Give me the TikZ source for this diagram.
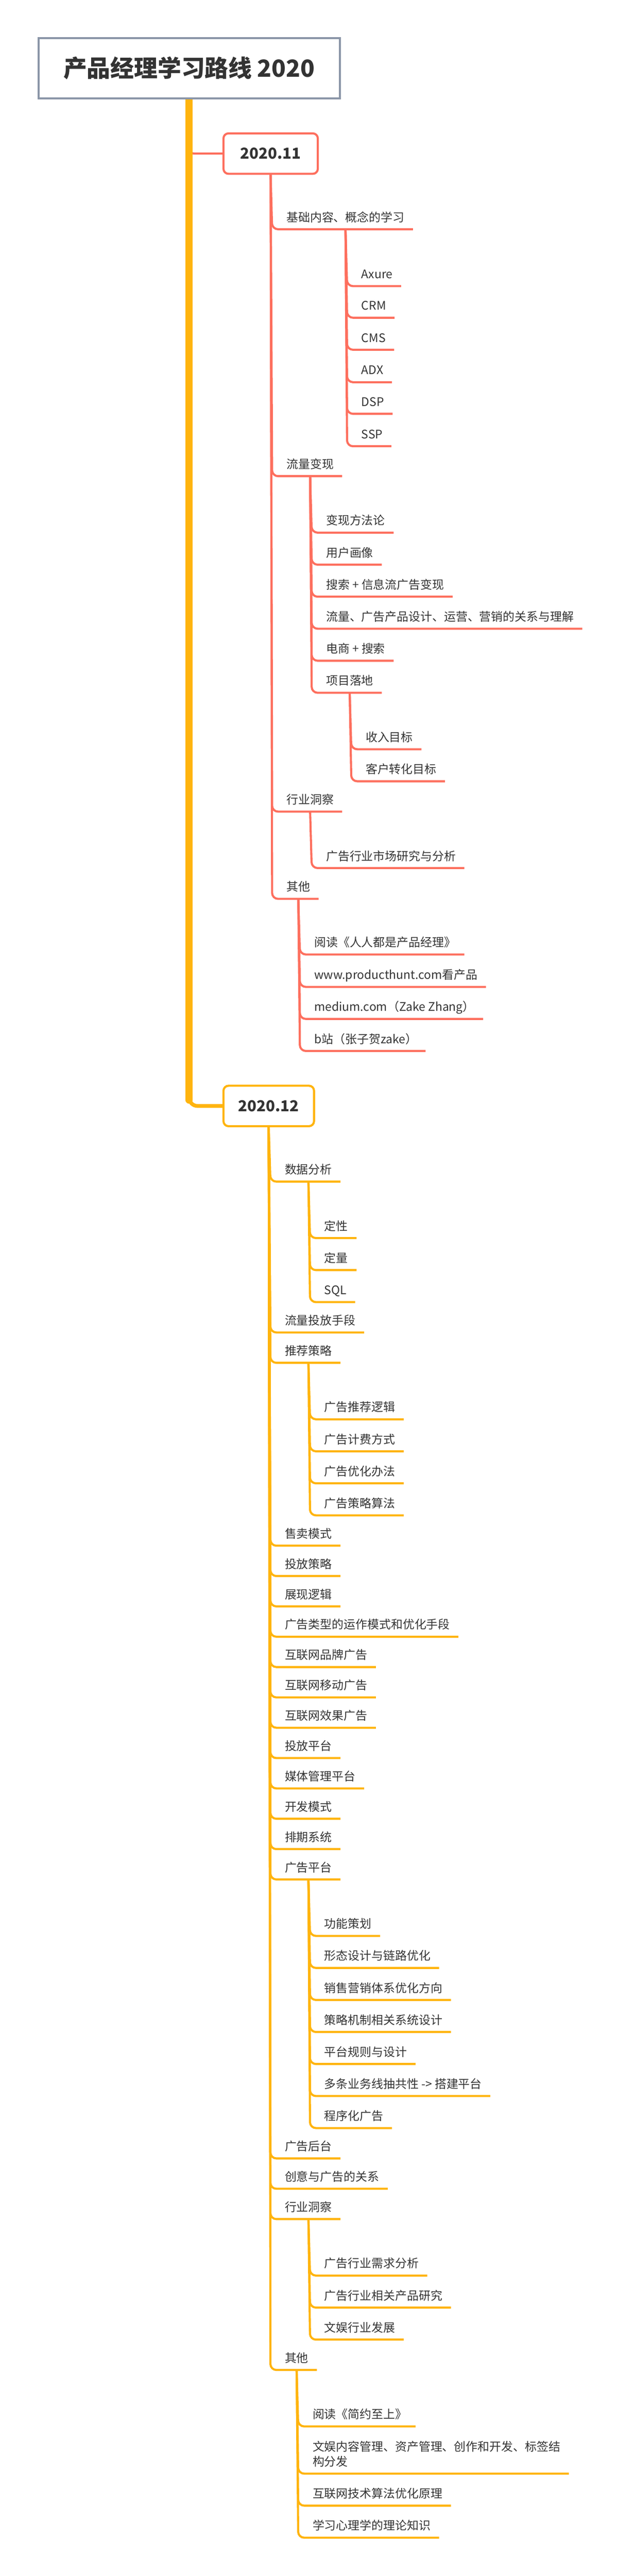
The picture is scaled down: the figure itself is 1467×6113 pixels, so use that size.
\documentclass[tikz,border=0pt]{standalone}
\usepackage{fontspec}
\setmainfont{Noto Sans CJK SC}
\definecolor{xred}{RGB}{253,111,94}
\definecolor{xorange}{RGB}{255,180,14}
\definecolor{xgray}{RGB}{139,150,168}
\definecolor{ink}{RGB}{51,51,51}
\newcommand\topicfont{\fontsize{28}{36}\selectfont}
\newcommand\monthfont{\fontsize{36}{42}\selectfont\bfseries}
\newcommand\rootfont{\fontsize{56}{64}\selectfont\bfseries}
\pgfdeclarelayer{background}
\pgfsetlayers{background,main}
\tikzset{
  rootbox/.style={draw=xgray,line width=5pt,fill=white,minimum width=715pt,minimum height=143pt,font=\rootfont,text=ink},
  monthbox/.style={line width=5pt,rounded corners=12pt,fill=white,minimum width=224pt,minimum height=96pt,font=\monthfont,text=ink},
  topic/.style={anchor=south west,inner xsep=20pt,inner ysep=12pt,text height=22pt,text depth=6pt,font=\topicfont,text=ink},
  twoline/.style={anchor=south west,inner xsep=20pt,inner ysep=15pt,align=left,font=\topicfont,text=ink},
  mmline/.style={line width=5pt,rounded corners=14pt},
  redbr/.style={mmline,draw=xred},
  orabr/.style={mmline,draw=xorange},
  trunk/.style={draw=xorange,line width=17pt,line cap=round},
  branch/.style={to path={-- ([xshift=-14pt]\tikztotarget.south west) -- (\tikztotarget.south east)}}
}

\begin{document}
\begin{tikzpicture}[x=1pt,y=-1pt]
\useasboundingbox (0,0) rectangle (1467,6113);

\node[rootbox] (root) at (449,162) {产品经理学习路线 2020};
\node[monthbox,draw=xred] (nov) at (642.5,364.5) {2020.11};
\node[monthbox,draw=xorange,minimum width=215pt] (dec) at (638,2624.5) {2020.12};

% 2020.11
\node[topic] (b1) at (660,544) {基础内容、概念的学习};
\node[topic] (a1) at (838,679) {Axure};
\node[topic] (a2) at (838,754) {CRM};
\node[topic] (a3) at (838,830) {CMS};
\node[topic] (a4) at (838,907) {ADX};
\node[topic] (a5) at (838,982) {DSP};
\node[topic] (a6) at (838,1059) {SSP};
\node[topic] (b2) at (660,1130) {流量变现};
\node[topic] (c1) at (754,1264) {变现方法论};
\node[topic] (c2) at (754,1340) {用户画像};
\node[topic] (c3) at (754,1416) {搜索 + 信息流广告变现};
\node[topic] (c4) at (754,1492) {流量、广告产品设计、运营、营销的关系与理解};
\node[topic] (c5) at (754,1568) {电商 + 搜索};
\node[topic] (c6) at (754,1644) {项目落地};
\node[topic] (d1) at (848,1778) {收入目标};
\node[topic] (d2) at (848,1854) {客户转化目标};
\node[topic] (b3) at (660,1926) {行业洞察};
\node[topic] (e1) at (754,2060) {广告行业市场研究与分析};
\node[topic] (b4) at (660,2133) {其他};
\node[topic] (f1) at (726,2265) {阅读《人人都是产品经理》};
\node[topic] (f2) at (726,2342) {www.producthunt.com看产品};
\node[topic] (f3) at (726,2418) {medium.com（Zake Zhang）};
\node[topic] (f4) at (726,2494) {b站（张子贺zake）};

% 2020.12
\node[topic] (g1) at (656,2804) {数据分析};
\node[topic] (h1) at (750,2938) {定性};
\node[topic] (h2) at (750,3014) {定量};
\node[topic] (h3) at (750,3090) {SQL};
\node[topic] (g2) at (656,3162) {流量投放手段};
\node[topic] (g3) at (656,3234) {推荐策略};
\node[topic] (i1) at (750,3368) {广告推荐逻辑};
\node[topic] (i2) at (750,3444) {广告计费方式};
\node[topic] (i3) at (750,3520) {广告优化办法};
\node[topic] (i4) at (750,3596) {广告策略算法};
\node[topic] (g4) at (656,3668) {售卖模式};
\node[topic] (g5) at (656,3740) {投放策略};
\node[topic] (g6) at (656,3812) {展现逻辑};
\node[topic] (g7) at (656,3884) {广告类型的运作模式和优化手段};
\node[topic] (g8) at (656,3956) {互联网品牌广告};
\node[topic] (g9) at (656,4028) {互联网移动广告};
\node[topic] (g10) at (656,4100) {互联网效果广告};
\node[topic] (g11) at (656,4172) {投放平台};
\node[topic] (g12) at (656,4244) {媒体管理平台};
\node[topic] (g13) at (656,4316) {开发模式};
\node[topic] (g14) at (656,4388) {排期系统};
\node[topic] (g15) at (656,4460) {广告平台};
\node[topic] (j1) at (750,4594) {功能策划};
\node[topic] (j2) at (750,4670) {形态设计与链路优化};
\node[topic] (j3) at (750,4746) {销售营销体系优化方向};
\node[topic] (j4) at (750,4822) {策略机制相关系统设计};
\node[topic] (j5) at (750,4898) {平台规则与设计};
\node[topic] (j6) at (750,4974) {多条业务线抽共性 -> 搭建平台};
\node[topic] (j7) at (750,5050) {程序化广告};
\node[topic] (g16) at (656,5122) {广告后台};
\node[topic] (g17) at (656,5194) {创意与广告的关系};
\node[topic] (g18) at (656,5266) {行业洞察};
\node[topic] (k1) at (750,5400) {广告行业需求分析};
\node[topic] (k2) at (750,5476) {广告行业相关产品研究};
\node[topic] (k3) at (750,5552) {文娱行业发展};
\node[topic] (g19) at (656,5624) {其他};
\node[topic] (l1) at (722,5758) {阅读《简约至上》};
\node[twoline] (l2) at (722,5870) {文娱内容管理、资产管理、创作和开发、标签结\\构分发};
\node[topic] (l3) at (722,5946) {互联网技术算法优化原理};
\node[topic] (l4) at (722,6022) {学习心理学的理论知识};

\begin{pgfonlayer}{background}
  \coordinate (novbend) at (root.south |- nov.west);
  \coordinate (decbend) at (root.south |- dec.west);
  \draw[redbr,rounded corners=12pt] (root.south) -- (novbend) -- (nov.west);
  \draw[orabr,line width=9pt,rounded corners=20pt] ([yshift=40pt]decbend) -- (decbend) -- (dec.west);
  \draw[trunk] (root.south) -- ([yshift=14pt]decbend);

  \path[redbr]
    (nov.south) edge[branch] (b1) edge[branch] (b2) edge[branch] (b3) edge[branch] (b4)
    (b1.south) edge[branch] (a1) edge[branch] (a2) edge[branch] (a3)
               edge[branch] (a4) edge[branch] (a5) edge[branch] (a6)
    (b2.south) edge[branch] (c1) edge[branch] (c2) edge[branch] (c3)
               edge[branch] (c4) edge[branch] (c5) edge[branch] (c6)
    (c6.south) edge[branch] (d1) edge[branch] (d2)
    (b3.south) edge[branch] (e1)
    (b4.south) edge[branch] (f1) edge[branch] (f2) edge[branch] (f3) edge[branch] (f4);

  \path[orabr]
    (dec.south) edge[branch] (g1) edge[branch] (g2) edge[branch] (g3) edge[branch] (g4)
                edge[branch] (g5) edge[branch] (g6) edge[branch] (g7) edge[branch] (g8)
                edge[branch] (g9) edge[branch] (g10) edge[branch] (g11) edge[branch] (g12)
                edge[branch] (g13) edge[branch] (g14) edge[branch] (g15) edge[branch] (g16)
                edge[branch] (g17) edge[branch] (g18) edge[branch] (g19)
    (g1.south) edge[branch] (h1) edge[branch] (h2) edge[branch] (h3)
    (g3.south) edge[branch] (i1) edge[branch] (i2) edge[branch] (i3) edge[branch] (i4)
    (g15.south) edge[branch] (j1) edge[branch] (j2) edge[branch] (j3) edge[branch] (j4)
                edge[branch] (j5) edge[branch] (j6) edge[branch] (j7)
    (g18.south) edge[branch] (k1) edge[branch] (k2) edge[branch] (k3)
    (g19.south) edge[branch] (l1) edge[branch] (l2) edge[branch] (l3) edge[branch] (l4);
\end{pgfonlayer}
\end{tikzpicture}
\end{document}
